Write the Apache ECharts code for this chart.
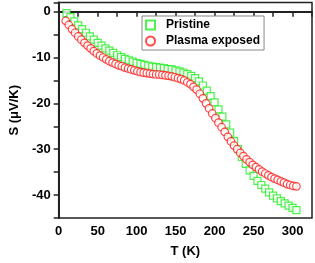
<!DOCTYPE html>
<html><head><meta charset="utf-8">
<script src="https://cdn.jsdelivr.net/npm/echarts@6/dist/echarts.min.js"></script>
<style>html,body{margin:0;padding:0;background:#fff}#c{width:315px;height:263px}</style>
</head><body><div id="c"></div>
<script>
var pristineT = [10,15,20,25,30,35,40,45,50,55,60,65,70,75,80,85,90,95,100,105,110,115,120,125,130,135,140,145,150,155,160,165,170,175,180,185,190,195,200,205,210,215,220,225,230,235,240,245,250,255,260,265,270,275,280,285,290,295,300,305];
var pristineS = [-0.3,-1.2,-2.1,-3.0,-3.8,-4.6,-5.4,-6.1,-6.8,-7.4,-8.0,-8.5,-9.0,-9.5,-9.9,-10.3,-10.6,-10.9,-11.2,-11.4,-11.6,-11.8,-12.0,-12.1,-12.2,-12.3,-12.5,-12.6,-12.8,-13.0,-13.3,-13.6,-14.0,-14.5,-15.2,-16.1,-17.2,-18.4,-19.8,-21.3,-22.9,-24.6,-26.4,-28.2,-30.0,-31.7,-33.2,-34.6,-35.8,-36.9,-37.8,-38.6,-39.4,-40.1,-40.7,-41.3,-41.8,-42.3,-42.8,-43.3];
var plasmaT = [9,13,17,21,25,29,33,37,41,45,49,53,57,61,65,69,73,77,81,85,89,93,97,101,105,109,113,117,121,125,129,133,137,141,145,149,153,157,161,165,169,173,177,181,185,189,193,197,201,205,209,213,217,221,225,229,233,237,241,245,249,253,257,261,265,269,273,277,281,285,289,293,297,301,305];
var plasmaS = [-2.0,-2.9,-3.8,-4.6,-5.4,-6.1,-6.8,-7.4,-8.0,-8.6,-9.1,-9.6,-10.0,-10.4,-10.8,-11.1,-11.4,-11.7,-11.9,-12.2,-12.4,-12.6,-12.8,-13.0,-13.2,-13.3,-13.4,-13.5,-13.6,-13.7,-13.7,-13.8,-13.9,-14.0,-14.1,-14.3,-14.5,-14.7,-15.0,-15.4,-15.8,-16.4,-17.0,-17.9,-18.9,-20.0,-21.1,-22.2,-23.2,-24.2,-25.2,-26.2,-27.3,-28.3,-29.2,-30.0,-30.8,-31.5,-32.2,-32.8,-33.4,-33.9,-34.4,-34.9,-35.3,-35.7,-36.1,-36.4,-36.7,-37.0,-37.3,-37.6,-37.8,-38.0,-38.1];
var seriesNames = ['Pristine','Plasma exposed'];
var xMajor = 50, yMajor = 10;

function pairs(xs, ys){ return xs.map(function(x,i){ return [x, ys[i]]; }); }
var font = 'Liberation Sans, Arial, sans-serif';
var chart = echarts.init(document.getElementById('c'), null, {renderer:'canvas'});
chart.setOption({
  animation:false,
  backgroundColor:'#fff',
  grid:{left:45, right:3, top:2.5, bottom:42, show:true, borderColor:'#222', borderWidth:1.5},
  legend:{
    orient:'vertical', left:142, top:16, padding:[3,4,3,3],
    itemWidth:9, itemHeight:9, itemGap:4,
    borderColor:'#888', borderWidth:1, backgroundColor:'#fff',
    textStyle:{fontFamily:font, fontWeight:'bold', fontSize:12, color:'#000', padding:[0,0,0,6]},
    data:seriesNames
  },
  xAxis:{
    type:'value', min:0, max:325, interval:25,
    name:'T (K)', nameLocation:'middle', nameGap:27,
    nameTextStyle:{fontFamily:font, fontWeight:'bold', fontSize:13, color:'#000'},
    axisLine:{lineStyle:{color:'#222', width:2}},
    axisTick:{show:true, inside:false, length:5, lineStyle:{color:'#222', width:1.5}},
    axisLabel:{fontFamily:font, fontWeight:'bold', fontSize:13, color:'#000', margin:7,
      formatter:function(v){ return (v % xMajor === 0) ? String(v) : ''; }},
    splitLine:{show:false}
  },
  yAxis:{
    type:'value', min:-45, max:2, interval:5,
    name:'S (\u03bcV/K)', nameLocation:'middle', nameGap:34,
    nameTextStyle:{fontFamily:font, fontWeight:'bold', fontSize:13, color:'#000'},
    axisLine:{lineStyle:{color:'#222', width:2}},
    axisTick:{show:true, inside:false, length:5, lineStyle:{color:'#222', width:1.5}},
    axisLabel:{fontFamily:font, fontWeight:'bold', fontSize:13, color:'#000', margin:8,
      formatter:function(v){ return (v % yMajor === 0) ? String(v) : ''; }},
    splitLine:{show:false}
  },
  series:[
    {name:seriesNames[0], type:'scatter', symbol:'rect', symbolSize:7,
     data:pairs(pristineT, pristineS),
     itemStyle:{color:'#fff', borderColor:'#22ee22', borderWidth:1.2}},
    {name:seriesNames[1], type:'scatter', symbol:'circle', symbolSize:7.5,
     data:pairs(plasmaT, plasmaS),
     itemStyle:{color:'#fff', borderColor:'#ff1a1a', borderWidth:1.2}}
  ]
});
</script></body></html>
